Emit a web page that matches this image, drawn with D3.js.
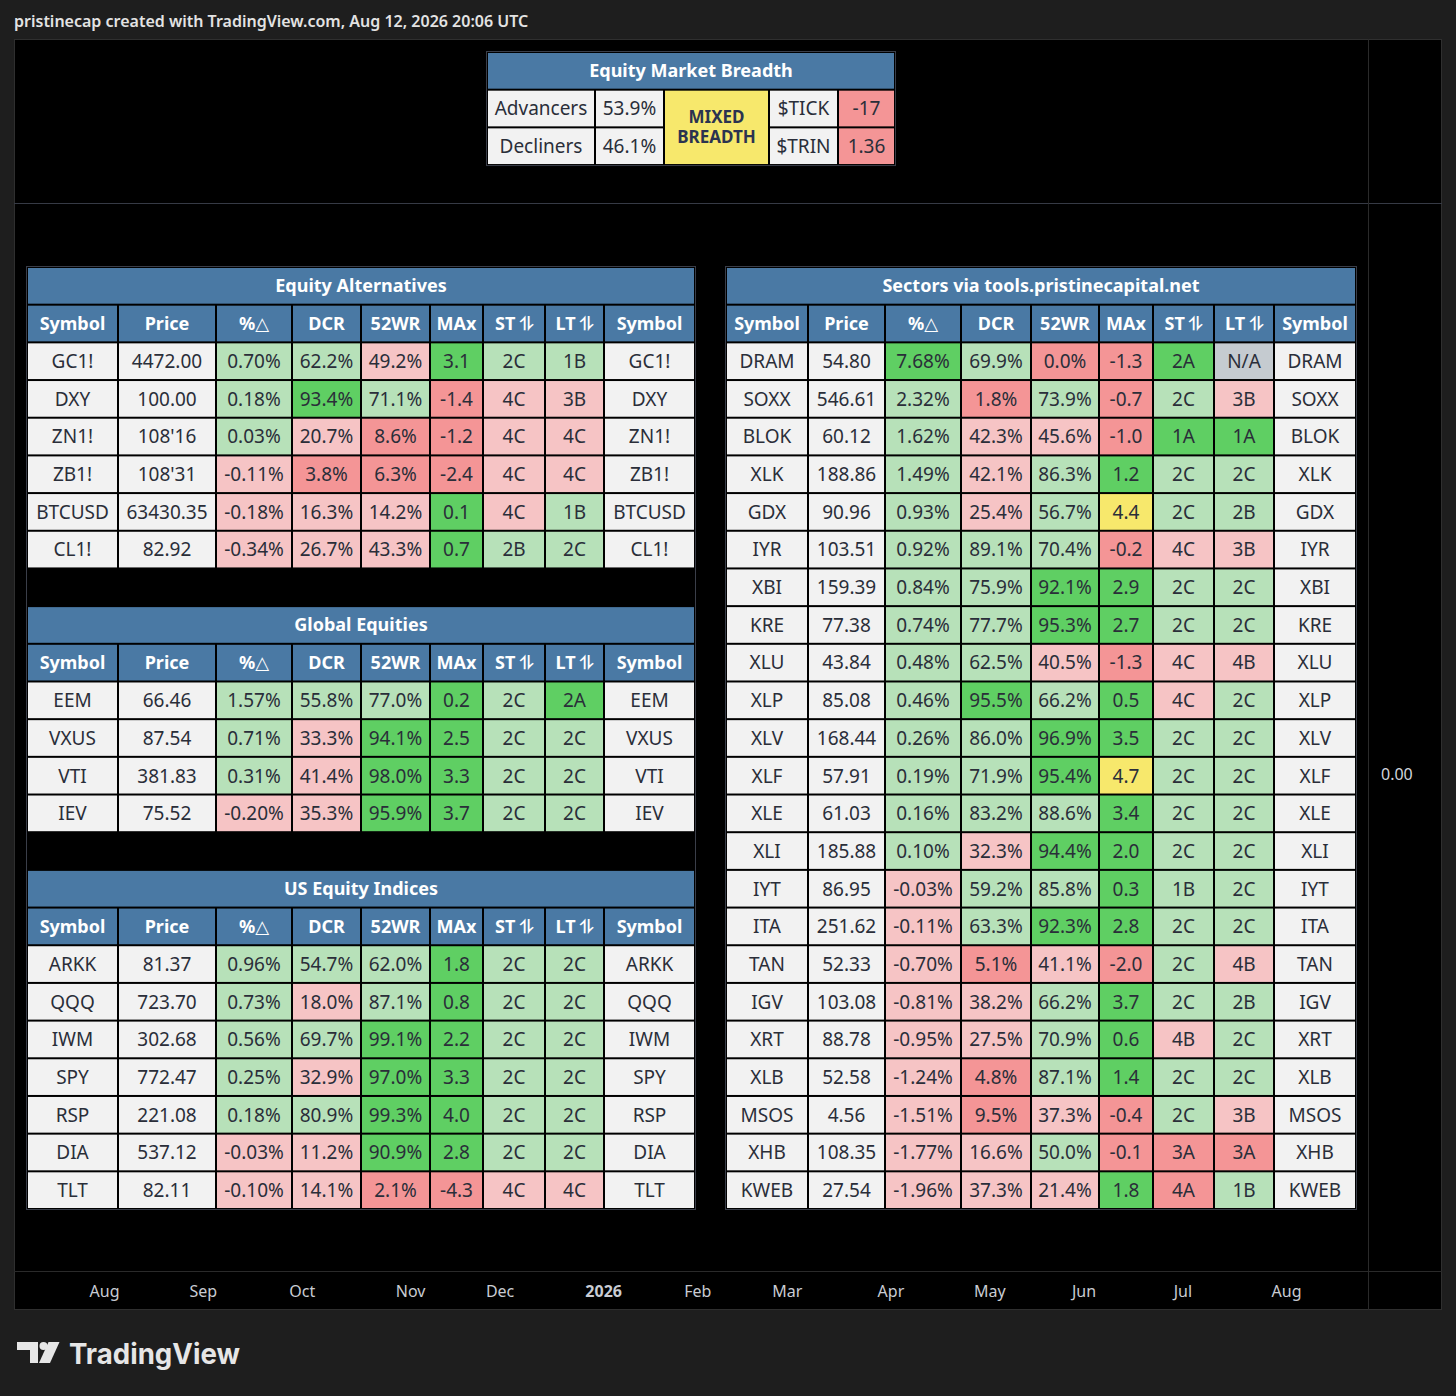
<!DOCTYPE html>
<html><head><meta charset="utf-8">
<script src="https://cdn.jsdelivr.net/npm/d3@7"></script>
<style>
html,body{margin:0;padding:0;background:#1e1e1e;}
svg{display:block;}
</style></head><body>
<svg id="chart" width="1456" height="1396"></svg>
<script>
// ---------------- DATA ----------------
const headerLabels = ["Symbol","Price","%△","DCR","52WR","MAx","ST ⥮","LT ⥮","Symbol"];

// Equity Market Breadth
const breadthLabels = ["Advancers","Decliners"];
const breadthPct = [53.9, 46.1];
const breadthState = ["MIXED","BREADTH"];
const internalsLabels = ["$TICK","$TRIN"];
const internalsValues = ["-17","1.36"];

// Equity Alternatives
const eaSymbols = ["GC1!","DXY","ZN1!","ZB1!","BTCUSD","CL1!"];
const eaPrice = ["4472.00","100.00","108'16","108'31","63430.35","82.92"];
const eaChg = [0.70,0.18,0.03,-0.11,-0.18,-0.34];
const eaDcr = [62.2,93.4,20.7,3.8,16.3,26.7];
const eaWr = [49.2,71.1,8.6,6.3,14.2,43.3];
const eaMax = [3.1,-1.4,-1.2,-2.4,0.1,0.7];
const eaSt = ["2C","4C","4C","4C","4C","2B"];
const eaLt = ["1B","3B","4C","4C","1B","2C"];

// Global Equities
const geSymbols = ["EEM","VXUS","VTI","IEV"];
const gePrice = ["66.46","87.54","381.83","75.52"];
const geChg = [1.57,0.71,0.31,-0.20];
const geDcr = [55.8,33.3,41.4,35.3];
const geWr = [77.0,94.1,98.0,95.9];
const geMax = [0.2,2.5,3.3,3.7];
const geSt = ["2C","2C","2C","2C"];
const geLt = ["2A","2C","2C","2C"];

// US Equity Indices
const usSymbols = ["ARKK","QQQ","IWM","SPY","RSP","DIA","TLT"];
const usPrice = ["81.37","723.70","302.68","772.47","221.08","537.12","82.11"];
const usChg = [0.96,0.73,0.56,0.25,0.18,-0.03,-0.10];
const usDcr = [54.7,18.0,69.7,32.9,80.9,11.2,14.1];
const usWr = [62.0,87.1,99.1,97.0,99.3,90.9,2.1];
const usMax = [1.8,0.8,2.2,3.3,4.0,2.8,-4.3];
const usSt = ["2C","2C","2C","2C","2C","2C","4C"];
const usLt = ["2C","2C","2C","2C","2C","2C","4C"];

// Sectors
const secSymbols = ["DRAM","SOXX","BLOK","XLK","GDX","IYR","XBI","KRE","XLU","XLP","XLV","XLF","XLE","XLI","IYT","ITA","TAN","IGV","XRT","XLB","MSOS","XHB","KWEB"];
const secPrice = ["54.80","546.61","60.12","188.86","90.96","103.51","159.39","77.38","43.84","85.08","168.44","57.91","61.03","185.88","86.95","251.62","52.33","103.08","88.78","52.58","4.56","108.35","27.54"];
const secChg = [7.68,2.32,1.62,1.49,0.93,0.92,0.84,0.74,0.48,0.46,0.26,0.19,0.16,0.10,-0.03,-0.11,-0.70,-0.81,-0.95,-1.24,-1.51,-1.77,-1.96];
const secDcr = [69.9,1.8,42.3,42.1,25.4,89.1,75.9,77.7,62.5,95.5,86.0,71.9,83.2,32.3,59.2,63.3,5.1,38.2,27.5,4.8,9.5,16.6,37.3];
const secWr = [0.0,73.9,45.6,86.3,56.7,70.4,92.1,95.3,40.5,66.2,96.9,95.4,88.6,94.4,85.8,92.3,41.1,66.2,70.9,87.1,37.3,50.0,21.4];
const secMax = [-1.3,-0.7,-1.0,1.2,4.4,-0.2,2.9,2.7,-1.3,0.5,3.5,4.7,3.4,2.0,0.3,2.8,-2.0,3.7,0.6,1.4,-0.4,-0.1,1.8];
const secSt = ["2A","2C","1A","2C","2C","4C","2C","2C","4C","4C","2C","2C","2C","2C","1B","2C","2C","2C","4B","2C","2C","3A","4A"];
const secLt = ["N/A","3B","1A","2C","2B","3B","2C","2C","4B","2C","2C","2C","2C","2C","2C","2C","4B","2B","2C","2C","3B","3A","1B"];

// Time axis
const monthLabels = ["Aug","Sep","Oct","Nov","Dec","2026","Feb","Mar","Apr","May","Jun","Jul","Aug"];
const monthTradingDays = [21,21,23,19,22,20,19,22,21,20,21,22];

// ---------------- STYLE ----------------
const FONT = "'Noto Sans','DejaVu Sans',sans-serif";
const C = {W:"#f2f2f2", LG:"#b7e1b9", G:"#5fcf63", LR:"#f6c4c5", R:"#f49596", Y:"#f7e86c", N:"#c5cbd0", H:"#4a79a4"};
const TXT = "#2a2e39";
const fmtLocale = d3.formatLocale({decimal:".", thousands:",", grouping:[3], currency:["$",""], minus:"-"});
const f2 = fmtLocale.format(".2f"), f1 = fmtLocale.format(".1f");

const chgColor = d3.scaleThreshold().domain([0,5]).range([C.LR,C.LG,C.G]);
const pctColor = d3.scaleThreshold().domain([10,50,90]).range([C.R,C.LR,C.LG,C.G]);
const maxColor = d3.scaleThreshold().domain([0,4.1]).range([C.R,C.G,C.Y]);
function trendColor(s){
  if (s === "N/A") return C.N;
  const n = +s[0], a = s[1] === "A";
  return n <= 2 ? (a ? C.G : C.LG) : (a ? C.R : C.LR);
}

const svg = d3.select("#chart");
const W = 1456, H = 1396;
svg.append("rect").attr("width",W).attr("height",H).attr("fill","#1e1e1e");

// header caption
svg.append("text").attr("x",14).attr("y",27)
  .attr("font-family",FONT).attr("font-size",16).attr("font-weight",600).attr("fill","#e3e3e3")
  .text("pristinecap created with TradingView.com, Aug 12, 2026 20:06 UTC");

// chart frame
const FX0 = 14, FY0 = 39, FX1 = 1442, FY1 = 1310, PSX = 1368, TAY = 1271, SEPY = 203;
svg.append("rect").attr("x",FX0+0.5).attr("y",FY0+0.5).attr("width",FX1-FX0-1).attr("height",FY1-FY0-1)
  .attr("fill","#000").attr("stroke","#2f2f2f");
svg.append("line").attr("x1",FX0).attr("x2",FX1).attr("y1",SEPY+0.5).attr("y2",SEPY+0.5).attr("stroke","#363a45");
svg.append("line").attr("x1",FX0).attr("x2",FX1).attr("y1",TAY+0.5).attr("y2",TAY+0.5).attr("stroke","#2a2a2a");
svg.append("line").attr("x1",PSX+0.5).attr("x2",PSX+0.5).attr("y1",FY0).attr("y2",FY1).attr("stroke","#2a2a2a");

// time axis (positions by trading-day index)
const cum = [0, ...Array.from(d3.cumsum(monthTradingDays))];
const xIdx = d3.scaleLinear().domain([0, d3.sum(monthTradingDays)]).range([104, 1286]);
const xAxis = d3.axisBottom(xIdx).tickValues(cum).tickSize(0).tickPadding(0)
  .tickFormat((d,i)=>monthLabels[i]);
const gx = svg.append("g").attr("transform",`translate(0,${TAY+15})`).call(xAxis);
gx.select(".domain").remove();
gx.selectAll("text").attr("font-family",FONT).attr("font-size",16).attr("fill","#c9ccd3")
  .attr("font-weight",(d,i)=>monthLabels[i]==="2026"?700:400);

// price scale
const yScale = d3.scaleLinear().domain([-1,1]).range([1250,298]);
const yAxis = d3.axisRight(yScale).tickValues([0]).tickSize(0).tickPadding(0).tickFormat(fmtLocale.format(".2f"));
const gy = svg.append("g").attr("transform",`translate(1381,0)`).call(yAxis);
gy.select(".domain").remove();
gy.selectAll("text").attr("font-family",FONT).attr("font-size",16).attr("fill","#d1d4dc");

// ---------------- TABLES ----------------
const RH = 37.68;

function cell(g, x, y, w, h, fill, lines, color, weight, size){
  g.append("rect").attr("x",x+1).attr("y",y+1).attr("width",w-2).attr("height",h-2).attr("fill",fill);
  const arr = Array.isArray(lines) ? lines : [lines];
  const lh = 20;
  arr.forEach((s,i)=>{
    g.append("text").attr("x",x+w/2).attr("text-anchor","middle")
      .attr("font-family",FONT).attr("font-size",size).attr("font-weight",weight).attr("fill",color)
      .attr("y", y + h/2 + (i-(arr.length-1)/2)*lh).attr("dy","0.36em").text(s);
  });
}

function sectionRows(title, sym, price, chg, dcr, wr, mx, st, lt){
  const rows = [{type:"title", text:title},
    {type:"row", cells: headerLabels.map(h=>({t:h, f:C.H, c:"#fff", w:700, s:18}))}];
  sym.forEach((s,i)=>rows.push({type:"row", cells:[
    {t:s, f:C.W}, {t:price[i], f:C.W},
    {t:f2(chg[i])+"%", f:chgColor(chg[i])},
    {t:f1(dcr[i])+"%", f:pctColor(dcr[i])},
    {t:f1(wr[i])+"%", f:pctColor(wr[i])},
    {t:f1(mx[i]), f:maxColor(mx[i])},
    {t:st[i], f:trendColor(st[i])},
    {t:lt[i], f:trendColor(lt[i])},
    {t:s, f:C.W}
  ]}));
  return rows;
}

function drawTable(edges, y0, rows){
  const g = svg.append("g");
  const rowY = d3.scaleBand().domain(d3.range(rows.length)).range([y0, y0 + rows.length*RH]);
  const x0 = edges[0], x1 = edges[edges.length-1];
  g.append("rect").attr("x",x0-0.5).attr("y",y0-0.5).attr("width",x1-x0+1).attr("height",rows.length*RH+1)
    .attr("fill","#000").attr("stroke","#3a3e49");
  rows.forEach((r,i)=>{
    const y = rowY(i);
    if (r.type === "blank") return;
    if (r.type === "title") { cell(g, x0, y, x1-x0, RH, C.H, r.text, "#fff", 700, 18); return; }
    let col = 0;
    r.cells.forEach(c=>{
      const span = c.span || 1;
      if (c.skip) { col += span; return; }
      const hh = RH*(c.rows||1);
      cell(g, edges[col], y, edges[col+span]-edges[col], hh, c.f, c.t, c.c||TXT, c.w||400, c.s||19);
      col += span;
    });
  });
}

// Equity Market Breadth
const topEdges = [487,595,664,769,838,895];
drawTable(topEdges, 52, [
  {type:"title", text:"Equity Market Breadth"},
  {type:"row", cells:[
    {t:breadthLabels[0], f:C.W}, {t:f1(breadthPct[0])+"%", f:C.W},
    {t:breadthState, f:C.Y, rows:2, w:700, c:"#2b3350", s:17},
    {t:internalsLabels[0], f:C.W}, {t:internalsValues[0], f:C.R}]},
  {type:"row", cells:[
    {t:breadthLabels[1], f:C.W}, {t:f1(breadthPct[1])+"%", f:C.W},
    {skip:true},
    {t:internalsLabels[1], f:C.W}, {t:internalsValues[1], f:C.R}]}
]);

// Left stacked table
const leftEdges = [27,118,216,292,361,430,483,545,604,695];
const leftRows = []
  .concat(sectionRows("Equity Alternatives", eaSymbols, eaPrice, eaChg, eaDcr, eaWr, eaMax, eaSt, eaLt))
  .concat([{type:"blank"}])
  .concat(sectionRows("Global Equities", geSymbols, gePrice, geChg, geDcr, geWr, geMax, geSt, geLt))
  .concat([{type:"blank"}])
  .concat(sectionRows("US Equity Indices", usSymbols, usPrice, usChg, usDcr, usWr, usMax, usSt, usLt));
drawTable(leftEdges, 267, leftRows);

// Sectors table
const rightEdges = [726,808,885,961,1031,1099,1153,1214,1274,1356];
drawTable(rightEdges, 267,
  sectionRows("Sectors via tools.pristinecapital.net", secSymbols, secPrice, secChg, secDcr, secWr, secMax, secSt, secLt));

// ---------------- LOGO ----------------
const logo = svg.append("g").attr("fill","#e6e6e6");
logo.append("path").attr("d","M17,1342H38V1363H30V1350H17Z");
logo.append("circle").attr("cx",43.5).attr("cy",1346).attr("r",4);
logo.append("path").attr("d","M48.5,1342H59.5L50,1363H39Z");
logo.append("text").attr("x",69).attr("y",1364).attr("font-family","Inter,'Noto Sans',sans-serif")
  .attr("font-size",29).attr("font-weight",700).attr("textLength",171).attr("lengthAdjust","spacingAndGlyphs")
  .text("TradingView");
</script>
</body></html>
